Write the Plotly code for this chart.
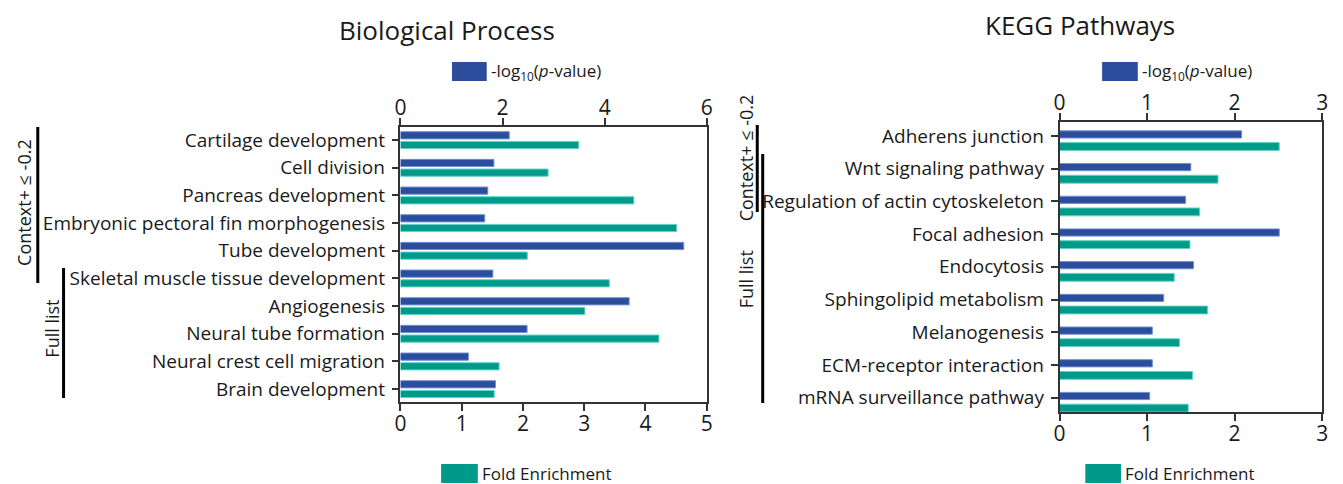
import plotly.graph_objects as go

# page body has an 8px margin: size the figure to the visible area and shift coordinates
OFF = 8
W, H = 1343 - OFF, 484 - OFF

# ---------------- data ----------------
bp_terms = ["Cartilage development", "Cell division", "Pancreas development",
            "Embryonic pectoral fin morphogenesis", "Tube development",
            "Skeletal muscle tissue development", "Angiogenesis",
            "Neural tube formation", "Neural crest cell migration", "Brain development"]
bp_logp = [2.13, 1.83, 1.71, 1.65, 5.55, 1.81, 4.48, 2.48, 1.33, 1.86]
bp_fold = [2.91, 2.41, 3.81, 4.51, 2.07, 3.41, 3.01, 4.22, 1.61, 1.53]

kegg_terms = ["Adherens junction", "Wnt signaling pathway", "Regulation of actin cytoskeleton",
              "Focal adhesion", "Endocytosis", "Sphingolipid metabolism", "Melanogenesis",
              "ECM-receptor interaction", "mRNA surveillance pathway"]
kegg_logp = [2.08, 1.50, 1.44, 2.51, 1.53, 1.19, 1.06, 1.06, 1.03]
kegg_fold = [2.51, 1.81, 1.60, 1.49, 1.31, 1.69, 1.37, 1.52, 1.47]

bp_top_ticks = [0, 2, 4, 6]
bp_bot_ticks = [0, 1, 2, 3, 4, 5]
kegg_ticks = [0, 1, 2, 3]

BLUE = "#2c4c9c"
BLUE_EDGE = "#6f8fd6"
TEAL = "#009a8a"
TEAL_EDGE = "#63d2c6"
INK = "#1a1a1a"
FONT = "Open Sans"


def px(x):
    return (x - OFF) / W


def py(y):
    return 1 - (y - OFF) / H


fig = go.Figure()

# Biological process bars
fig.add_trace(go.Bar(y=bp_terms, x=bp_logp, orientation="h", xaxis="x2", yaxis="y",
                     marker=dict(color=BLUE, line=dict(color=BLUE_EDGE, width=1)),
                     offset=-0.30, width=0.26, showlegend=False))
fig.add_trace(go.Bar(y=bp_terms, x=bp_fold, orientation="h", xaxis="x", yaxis="y",
                     marker=dict(color=TEAL, line=dict(color=TEAL_EDGE, width=1)),
                     offset=0.05, width=0.26, showlegend=False))
# KEGG bars
fig.add_trace(go.Bar(y=kegg_terms, x=kegg_logp, orientation="h", xaxis="x4", yaxis="y2",
                     marker=dict(color=BLUE, line=dict(color=BLUE_EDGE, width=1)),
                     offset=-0.16, width=0.22, showlegend=False))
fig.add_trace(go.Bar(y=kegg_terms, x=kegg_fold, orientation="h", xaxis="x3", yaxis="y2",
                     marker=dict(color=TEAL, line=dict(color=TEAL_EDGE, width=1)),
                     offset=0.20, width=0.24, showlegend=False))

axis_common = dict(showline=True, linecolor="#333", linewidth=1.5, ticks="outside",
                   ticklen=7, tickcolor="#333", tickwidth=1.5, showgrid=False, zeroline=False,
                   ticklabelstandoff=-5,
                   tickfont=dict(family=FONT, size=21, color=INK))

ydomL = [py(402), py(127)]
ydomR = [py(412), py(122)]

yaxis_common = dict(type="category", categoryorder="array",
                    showline=True, mirror=True, linecolor="#333", linewidth=1.5,
                    ticks="outside", ticklen=7, tickcolor="#333", tickwidth=1.5,
                    showgrid=False, zeroline=False, ticklabelstandoff=3,
                    tickfont=dict(family=FONT, size=19, color=INK))

fig.update_layout(
    width=W, height=H, margin=dict(l=0, r=0, t=0, b=0),
    paper_bgcolor="white", plot_bgcolor="white", barmode="overlay",
    font=dict(family=FONT, color=INK),
    xaxis=dict(domain=[px(398), px(707)], anchor="y", side="bottom", range=[0, 5],
               tickvals=bp_bot_ticks, **axis_common),
    xaxis2=dict(overlaying="x", anchor="y", side="top", range=[0, 6],
                tickvals=bp_top_ticks, **axis_common),
    yaxis=dict(domain=ydomL, anchor="x", categoryarray=bp_terms,
               range=[len(bp_terms) - 0.53, -0.47], **yaxis_common),
    xaxis3=dict(domain=[px(1063), px(1328)], anchor="y2", side="bottom", range=[0, 3],
                tickvals=kegg_ticks, **axis_common),
    xaxis4=dict(overlaying="x3", anchor="y2", side="top", range=[0, 3],
                tickvals=kegg_ticks, **axis_common),
    yaxis2=dict(domain=ydomR, anchor="x3", categoryarray=kegg_terms,
                range=[len(kegg_terms) - 0.56, -0.43], **yaxis_common),
)

shapes = []
ann = []

# Titles
ann.append(dict(text="Biological Process", x=px(445), y=py(30), xref="paper", yref="paper",
                showarrow=False, font=dict(size=26, family=FONT, color=INK),
                xanchor="center", yanchor="middle"))
ann.append(dict(text="KEGG Pathways", x=px(1084), y=py(25), xref="paper", yref="paper",
                showarrow=False, font=dict(size=26, family=FONT, color=INK),
                xanchor="center", yanchor="middle"))

# Legend swatches + labels
def legend(x0, x1, y0, y1, color, text, tx):
    shapes.append(dict(type="rect", xref="paper", yref="paper", x0=px(x0), x1=px(x1),
                       y0=py(y1), y1=py(y0), fillcolor=color, line=dict(width=0)))
    ann.append(dict(text=text, x=px(tx), y=py((y0 + y1) / 2), xref="paper", yref="paper",
                    showarrow=False, xanchor="left", yanchor="middle",
                    font=dict(size=17, family=FONT, color=INK)))

logp_label = "-log<sub>10</sub>(<i>p</i>-value)"
legend(450, 485, 62, 81, BLUE, logp_label, 487)
legend(1106, 1142, 62, 81, BLUE, logp_label, 1144)
legend(439, 476, 464, 483, TEAL, "Fold Enrichment", 478)
legend(1089, 1125, 464, 483, TEAL, "Fold Enrichment", 1127)

# Brackets
def bracket(x, y0, y1):
    shapes.append(dict(type="line", xref="paper", yref="paper", x0=px(x), x1=px(x),
                       y0=py(y0), y1=py(y1), line=dict(color="black", width=3)))

def side_label(text, x, y):
    ann.append(dict(text=text, x=px(x), y=py(y), xref="paper", yref="paper", showarrow=False,
                    textangle=-90, xanchor="center", yanchor="middle",
                    font=dict(size=18, family=FONT, color=INK)))

bracket(32, 127, 283)
side_label("Context+ ≤ -0.2", 18, 202)
bracket(58, 268, 398)
side_label("Full list", 46, 329)

bracket(758, 125, 212)
side_label("Context+ ≤ -0.2", 747, 158)
bracket(763.5, 154, 403)
side_label("Full list", 747, 279)

fig.update_layout(shapes=shapes, annotations=ann)
fig.write_html("out.html")
